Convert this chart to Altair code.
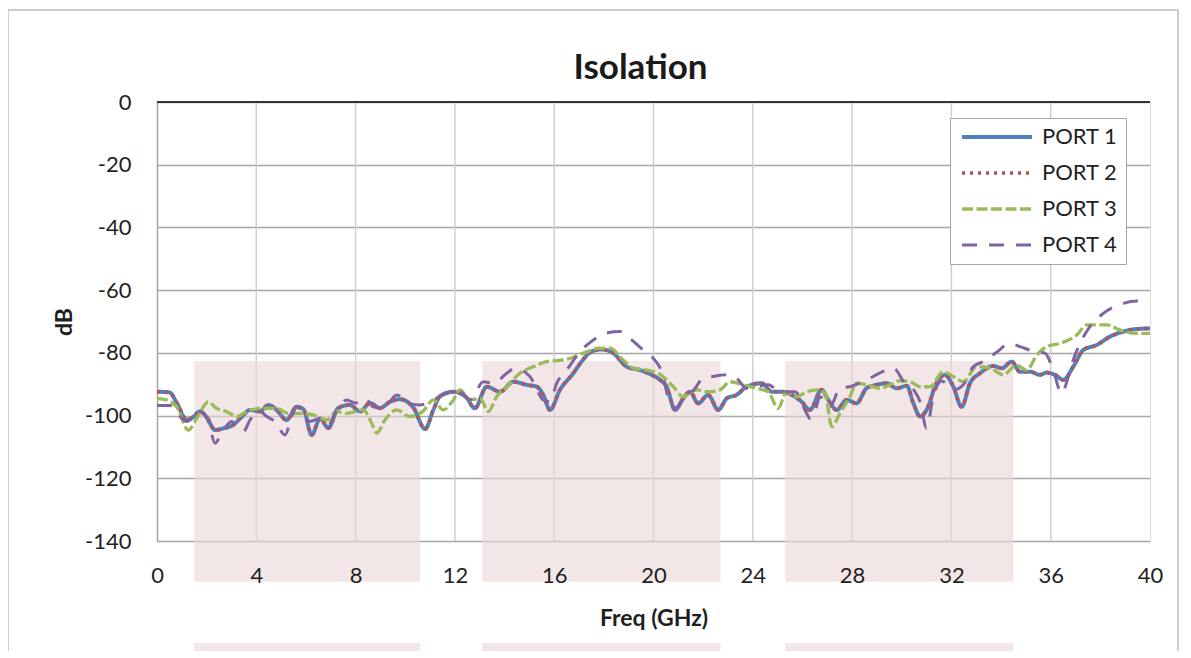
import altair as alt
import pandas as pd

ports = ["PORT 1", "PORT 2", "PORT 3", "PORT 4"]
colors = ["#4F81BD", "#C0504D", "#9BBB59", "#8064A2"]
dashes = [[1, 0], [3, 5], [11, 3.5], [15, 12]]
widths = [4, 3, 3.5, 3.5]

p1_x = [0, 0.5, 0.8, 1.2, 1.45, 1.73, 2.0, 2.34, 2.7, 3.06, 3.4, 3.75, 4.15, 4.49, 4.82, 5.22,
        5.63, 5.9, 6.23, 6.57, 6.9, 7.3, 7.77, 8.18, 8.58, 8.98, 9.39, 9.79, 10.33, 10.8, 11.13,
        11.4, 11.94, 12.47, 12.8, 13.28, 13.82, 14.35, 14.89, 15.3, 15.56, 15.83, 16.23, 16.77,
        17.1, 17.5, 17.91, 18.38, 18.92, 19.46, 20.0, 20.26, 20.53, 20.87, 21.2, 21.47, 21.8,
        22.2, 22.61, 22.95, 23.35, 23.75, 24.36, 24.76, 25.16, 25.57, 25.97, 26.3, 26.77, 27.04,
        27.38, 27.78, 28.18, 28.58, 28.99, 29.39, 29.8, 30.2, 30.47, 30.74, 31.0, 31.4, 31.74,
        32.08, 32.41, 32.75, 33.15, 33.69, 34.03, 34.43, 34.76, 35.17, 35.57, 35.84, 36.17,
        36.51, 36.91, 37.31, 37.85, 38.39, 38.93, 39.33, 40]
p1_y = [-92.4, -92.6, -96, -101.4, -100.5, -98.7, -100.5, -104.6, -104, -103, -100.5, -98.2,
        -98.7, -96.6, -98.2, -101.4, -97.2, -98, -106.2, -100.9, -104, -97.6, -96.6, -98.7, -96,
        -97.6, -95.6, -94.8, -97.5, -104.3, -98.2, -93.8, -92.4, -94.3, -97.7, -90.8, -92.4,
        -89.2, -90.2, -90.8, -93.4, -98.2, -91.8, -86.5, -82.8, -79.6, -78.9, -80.1, -84.4, -85.5,
        -87.3, -88.6, -90.8, -98.2, -94.5, -92.4, -96.1, -93.4, -98.2, -94.5, -93.4, -90.8, -89.7,
        -92.4, -92.4, -93.4, -95.6, -98.2, -91.8, -95, -98.2, -95, -96.1, -91.3, -90.2, -89.7,
        -91.3, -90.5, -96.1, -100.3, -98.2, -89.7, -87, -90.8, -97.2, -89.7, -86.5, -84.2, -84.9,
        -82.8, -86, -86, -87, -86.3, -87, -88.6, -84.4, -79.1, -77.5, -74.8, -73.2, -72.5, -72.2]

p2_x = list(p1_x)
p2_y = [-92.4, -92.6, -96, -101.4, -100.5, -98.7, -100.5, -104.6, -104, -103, -100.5, -98.2,
        -98.7, -96.6, -98.2, -101.4, -97.2, -98, -106.2, -100.9, -104, -97.6, -96.6, -98.7, -96,
        -97.6, -95.6, -94.8, -97.5, -104.3, -98.2, -93.8, -92.4, -94.3, -97.7, -90.8, -92.4,
        -89.2, -90.2, -90.8, -93.4, -98.2, -91.8, -86.5, -82.8, -79.6, -78.9, -80.1, -84.4, -85.5,
        -87.3, -88.6, -90.8, -98.2, -94.5, -92.4, -96.1, -93.4, -98.2, -94.5, -93.4, -90.8, -89.7,
        -92.4, -92.4, -93.4, -95.6, -98.2, -91.8, -95, -98.2, -95, -96.1, -91.3, -90.2, -89.7,
        -91.3, -90.5, -96.1, -100.3, -98.2, -89.7, -87, -90.8, -97.2, -89.7, -86.5, -84.2, -84.9,
        -82.8, -86, -86, -87, -86.3, -87, -88.6, -84.4, -79.1, -77.5, -74.8, -73.2, -72.5, -72.2]

p3_x = [0, 0.39, 0.79, 1.26, 1.6, 2.07, 2.4, 2.8, 3.2, 3.75, 4.28, 4.82, 5.29, 5.76, 6.3, 6.84,
        7.24, 7.64, 8.31, 8.65, 8.85, 9.18, 9.66, 10.19, 10.73, 11.13, 11.53, 11.94, 12.2, 12.61,
        13.01, 13.35, 13.68, 14.09, 14.62, 15.16, 15.7, 16.5, 17.17, 17.85, 18.25, 18.78, 19.19,
        19.73, 20.19, 20.8, 21.2, 21.74, 22.2, 22.68, 23.08, 23.62, 24.15, 24.62, 25.02, 25.36,
        25.76, 26.17, 26.57, 26.91, 27.18, 27.51, 27.91, 28.18, 28.58, 29.12, 29.52, 29.93,
        30.33, 30.74, 31.14, 31.67, 32.08, 32.48, 33.02, 33.56, 34.09, 34.63, 35.03, 35.44,
        35.84, 36.37, 37.05, 37.45, 38.25, 38.79, 39.46, 40]
p3_y = [-94.5, -95, -97.2, -104.6, -100.9, -95.6, -97.7, -98.7, -100.3, -98.2, -97.7, -97.7,
        -99.3, -99.3, -99.8, -101.4, -98.7, -99.3, -98.2, -102.5, -105.6, -101.4, -98.2, -100.3,
        -98.5, -95, -98.2, -95, -91.8, -95, -94.5, -98.7, -94, -90.8, -86.5, -84.4, -82.8, -82.1,
        -80.1, -78.5, -78.5, -82.3, -84.9, -85.5, -86.5, -90.8, -94, -91.8, -92.4, -91.8, -89.2,
        -90.2, -91.3, -92.4, -97.7, -92.4, -94, -92.4, -91.8, -92.9, -103.5, -99.3, -94, -89.7,
        -90.2, -91.3, -90.2, -88.9, -89.2, -90.8, -90.8, -86, -87.6, -89.2, -84.4, -84.9, -87,
        -83.9, -85.5, -80.7, -78, -77, -74.3, -71.1, -71.1, -72.7, -73.8, -73.8]

p4_x = [0, 0.52, 0.93, 1.2, 1.73, 2.07, 2.34, 2.61, 3.0, 3.25, 3.48, 3.75, 4.15, 4.42, 4.75,
        5.16, 5.4, 5.63, 5.9, 6.16, 6.57, 6.9, 7.24, 7.64, 8.0, 8.38, 8.71, 9.12, 9.66, 10.13,
        10.59, 11.13, 11.67, 12.2, 12.61, 13.15, 13.55, 14.09, 14.42, 15.03, 15.3, 15.56, 15.83,
        16.1, 16.5, 17.04, 17.58, 18.05, 18.65, 19.05, 19.59, 19.99, 20.33, 20.67, 20.9, 21.33,
        21.6, 21.99, 22.34, 22.95, 23.35, 23.75, 24.15, 24.62, 25.1, 25.7, 26.17, 26.3, 26.5,
        26.7, 27.11, 27.51, 27.91, 28.58, 29.39, 29.66, 30.13, 30.5, 30.74, 31.0, 31.27, 31.6,
        32.08, 32.5, 32.88, 33.42, 33.82, 34.36, 34.76, 35.37, 35.77, 36.1, 36.44, 36.71, 36.91,
        37.18, 37.58, 38.12, 38.93, 39.5, 40]
p4_y = [-96.8, -96.8, -100.3, -101.9, -98.7, -101.9, -108.8, -105.6, -101.9, -103.5, -105.1,
        -101.4, -98.7, -100.3, -101.9, -106.2, -101, -97.2, -99.5, -101.9, -100.9, -103, -98.2,
        -95, -96, -94.5, -97.2, -97.7, -93.4, -96.1, -96.6, -95, -92.9, -92.4, -95, -89.2, -89.7,
        -86.5, -84.9, -87.6, -91.8, -95, -95.5, -89.7, -85.5, -79.6, -75.9, -73.8, -73.2, -75.4,
        -79.1, -81.7, -86, -96.1, -97.5, -92.9, -92, -88.1, -87.6, -87, -88.1, -91.3, -90.8,
        -90.2, -92.4, -92.4, -99.3, -100.9, -99, -94, -97.2, -91.3, -90.8, -88.6, -85.5, -84.9,
        -89.7, -92, -95.6, -104, -94, -89, -91.8, -90, -84.4, -82.3, -79.8, -77, -78, -79.6,
        -80.1, -85.5, -92.9, -87.6, -82.3, -77, -71.6, -67.4, -64.2, -63.5, -63.5]

x_ticks = [0, 4, 8, 12, 16, 20, 24, 28, 32, 36, 40]
y_ticks = [-140, -120, -100, -80, -60, -40, -20, 0]

band_start = [1.5, 13.1, 25.3]
band_end = [10.6, 22.7, 34.5]
band_top = [-82.6, -172.5]
band_bottom = [-153, -185]

rows = []
for name, xs, ys in [("PORT 1", p1_x, p1_y), ("PORT 2", p2_x, p2_y),
                     ("PORT 3", p3_x, p3_y), ("PORT 4", p4_x, p4_y)]:
    for xv, yv in zip(xs, ys):
        rows.append({"port": name, "freq": xv, "db": yv})
df = pd.DataFrame(rows)

brow = []
for t, b in zip(band_top, band_bottom):
    for s, e in zip(band_start, band_end):
        brow.append({"freq": s, "freq2": e, "db": t, "db2": b})
band_df = pd.DataFrame(brow)

FONT = "Lato"
x_scale = alt.Scale(domain=[0, 40], nice=False, zero=False)
y_scale = alt.Scale(domain=[-140, 0], nice=False)
x_axis = alt.Axis(title="Freq (GHz)", values=x_ticks, grid=False, domain=False, ticks=False,
                  zindex=2, labelFontSize=22, labelFont=FONT, labelColor="#1F1F1F",
                  labelPadding=24, labelFlush=False, titleFont=FONT, titleFontSize=23,
                  titleFontWeight="bold", titleColor="#1F1F1F", titleBaseline="middle", titleY=77)
y_axis = alt.Axis(title="dB", values=y_ticks, grid=True, labelExpr="'' + datum.value",
                  gridColor="#A6A6A6", gridWidth=1.5, domain=True, domainColor="#A6A6A6",
                  domainWidth=1.5, ticks=False, labelFontSize=22, labelFont=FONT,
                  labelColor="#1F1F1F", labelPadding=26, titleFont=FONT, titleFontSize=23,
                  titleFontWeight="bold", titleColor="#1F1F1F", titleBaseline="middle",
                  titleX=-93)

vgrid = alt.Chart(pd.DataFrame({"freq": x_ticks[1:-1]})).mark_rule(
    color="#CFCFCF", strokeWidth=1.5).encode(x=alt.X("freq:Q", scale=x_scale, axis=x_axis))

bands = alt.Chart(band_df).mark_rect(color="#EBD5D7", opacity=0.6, clip=False).encode(
    x=alt.X("freq:Q", scale=x_scale, axis=x_axis), x2="freq2:Q",
    y=alt.Y("db:Q", scale=y_scale, axis=y_axis), y2="db2:Q")

top_line = alt.Chart(pd.DataFrame({"db": [0]})).mark_rule(color="#333333", strokeWidth=2).encode(
    y=alt.Y("db:Q", scale=y_scale, axis=y_axis))

frame = alt.Chart(pd.DataFrame({"a": [0]})).mark_rect(
    fill="transparent", stroke="#BFBFBF", strokeWidth=1.5, clip=False).encode(
    x=alt.value(-149), x2=alt.value(1021), y=alt.value(-92), y2=alt.value(600))

legend = alt.Legend(title=None, orient="none", legendX=793, legendY=16,
                    symbolType="M-4,0H4", symbolSize=306.25, symbolStrokeWidth=3.5,
                    labelFontSize=22, labelFont=FONT, labelColor="#1F1F1F", labelOffset=34,
                    padding=8, rowPadding=14, symbolOffset=28,
                    strokeColor="#A6A6A6", fillColor="white")

lines = alt.Chart(df).mark_line(interpolate="monotone").encode(
    x=alt.X("freq:Q", scale=x_scale, axis=x_axis),
    y=alt.Y("db:Q", scale=y_scale, axis=y_axis),
    color=alt.Color("port:N", scale=alt.Scale(domain=ports, range=colors), legend=legend),
    strokeDash=alt.StrokeDash("port:N", scale=alt.Scale(domain=ports, range=dashes), legend=legend),
    strokeWidth=alt.StrokeWidth("port:N", scale=alt.Scale(domain=ports, range=widths), legend=None),
    order=alt.Order("freq:Q"),
)

chart = alt.layer(frame, vgrid, bands, top_line, lines).properties(
    width=993, height=439,
    title=alt.Title("Isolation", fontSize=35, font=FONT, fontWeight="bold", color="#1A1A1A",
                    anchor="middle", frame="group", offset=16, dx=-13, dy=93),
    autosize=alt.AutoSizeParams(type="none"),
    padding={"left": 149, "top": 94, "right": 30, "bottom": 110},
).configure_view(stroke="#A6A6A6", strokeWidth=1.5).configure(background="white")

chart.save("out.html", embed_options={"renderer": "svg", "actions": False})
